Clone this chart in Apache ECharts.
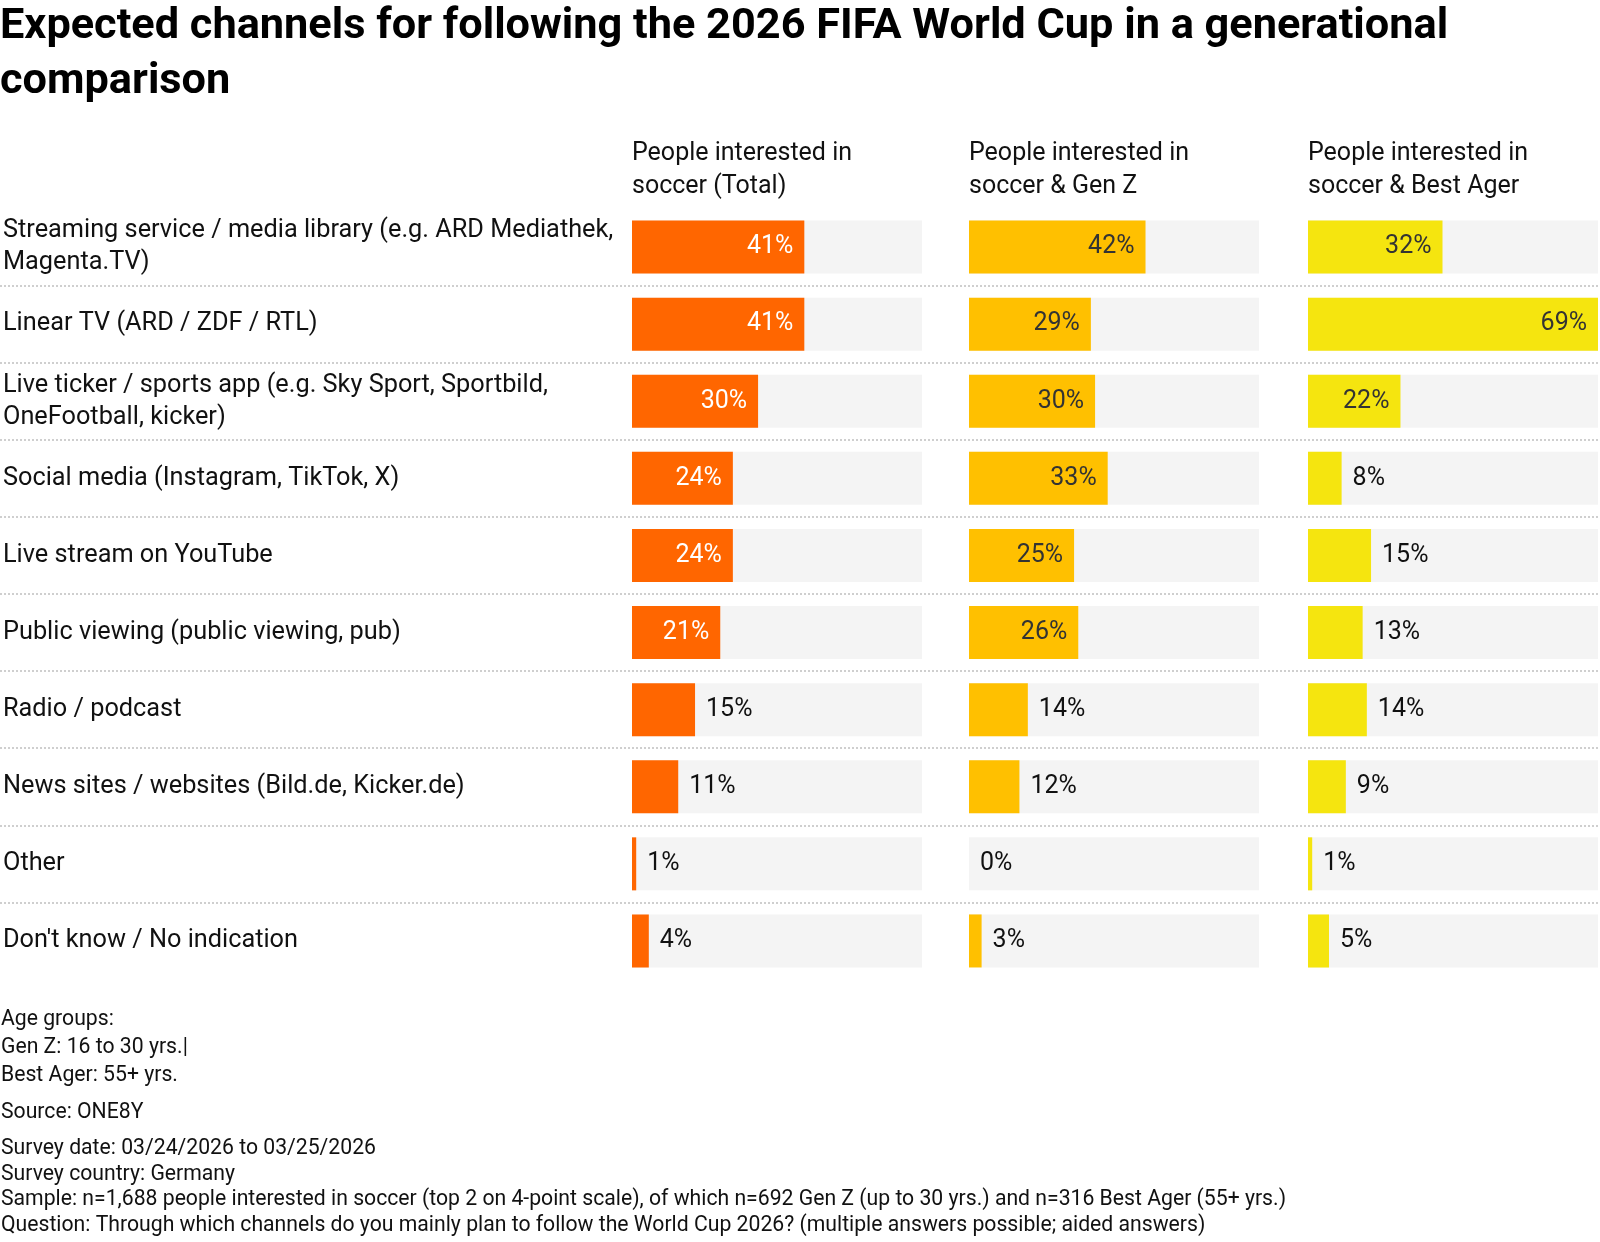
<!DOCTYPE html>
<html>
<head>
<meta charset="utf-8">
<title>FIFA World Cup 2026 channels</title>
<script src="https://cdn.jsdelivr.net/npm/echarts@6/dist/echarts.min.js"></script>
<style>
  html, body { margin: 0; padding: 0; background: #fff; }
  #chart { width: 1600px; height: 1242px; }
</style>
</head>
<body>
<div id="chart"></div>
<script>
// data
var categories = [
  'Streaming service / media library (e.g. ARD Mediathek,\nMagenta.TV)',
  'Linear TV (ARD / ZDF / RTL)',
  'Live ticker / sports app (e.g. Sky Sport, Sportbild,\nOneFootball, kicker)',
  'Social media (Instagram, TikTok, X)',
  'Live stream on YouTube',
  'Public viewing (public viewing, pub)',
  'Radio / podcast',
  'News sites / websites (Bild.de, Kicker.de)',
  'Other',
  "Don't know / No indication"
];
var columnTitles = [
  'People interested in\nsoccer (Total)',
  'People interested in\nsoccer & Gen Z',
  'People interested in\nsoccer & Best Ager'
];
var totalValues = [41, 41, 30, 24, 24, 21, 15, 11, 1, 4];
var genZValues = [42, 29, 30, 33, 25, 26, 14, 12, 0, 3];
var bestAgerValues = [32, 69, 22, 8, 15, 13, 14, 9, 1, 5];

var notes1 = 'Age groups:\nGen Z: 16 to 30 yrs.|\nBest Ager: 55+ yrs.';
var notes2 = 'Source: ONE8Y';
var notes3 = 'Survey date: 03/24/2026 to 03/25/2026\nSurvey country: Germany\n' +
  'Sample: n=1,688 people interested in soccer (top 2 on 4-point scale), of which n=692 Gen Z (up to 30 yrs.) and n=316 Best Ager (55+ yrs.)\n' +
  'Question: Through which channels do you mainly plan to follow the World Cup 2026? (multiple answers possible; aided answers)';

// layout
var FONT = 'Roboto, "Noto Sans", sans-serif';
var TEXT = '#111';
var rowTop = 208.5;
var rowBand = 77.1;
var colLeft = [632, 969, 1308];
var colWidth = 290;
var colors = ['#ff6600', '#ffc000', '#f5e50f'];
var insideColors = ['#fff', '#333', '#333'];
var scaleMax = Math.max.apply(null, totalValues.concat(genZValues, bestAgerValues));
var allValues = [totalValues, genZValues, bestAgerValues];

var myChart = echarts.init(document.getElementById('chart'), null, { renderer: 'canvas' });

var grids = [], xAxes = [], yAxes = [], series = [];
for (var i = 0; i < 3; i++) {
  grids.push({ left: colLeft[i], width: colWidth, top: rowTop, height: rowBand * categories.length });
  xAxes.push({ type: 'value', gridIndex: i, min: 0, max: scaleMax, show: false });
  yAxes.push({
    type: 'category', gridIndex: i, inverse: true, data: categories,
    axisLine: { show: false }, axisTick: { show: false },
    axisLabel: {
      show: i === 0, align: 'left', margin: colLeft[0] - 3,
      fontFamily: FONT, fontSize: 25.3, lineHeight: 32, color: TEXT
    }
  });
  (function (idx) {
    series.push({
      type: 'bar', xAxisIndex: idx, yAxisIndex: idx,
      barWidth: 53,
      showBackground: true,
      backgroundStyle: { color: '#f4f4f4' },
      itemStyle: { color: colors[idx] },
      silent: true,
      data: allValues[idx].map(function (v) {
        var inside = v >= 20;
        return {
          value: v,
          label: {
            show: true,
            position: inside ? 'insideRight' : 'right',
            distance: 11,
            color: inside ? insideColors[idx] : TEXT
          }
        };
      }),
      label: { formatter: '{c}%', fontFamily: FONT, fontSize: 25 }
    });
  })(i);
}

// separator grid: dotted lines between rows across the whole width
grids.push({ left: 0, width: 1598, top: rowTop + rowBand, height: rowBand * (categories.length - 2) });
xAxes.push({ type: 'value', gridIndex: 3, show: false });
yAxes.push({
  type: 'category', gridIndex: 3, data: categories.slice(0, categories.length - 2),
  axisLine: { show: false }, axisTick: { show: false }, axisLabel: { show: false },
  splitLine: { show: true, lineStyle: { color: '#cfcfcf', type: 'dotted', width: 2 } }
});

var titles = [{
  text: 'Expected channels for following the 2026 FIFA World Cup in a generational\ncomparison',
  left: 0, top: 0, padding: 0,
  textStyle: { fontFamily: FONT, fontSize: 43.3, fontWeight: 'bold', lineHeight: 55, color: '#000' }
}];
for (var j = 0; j < 3; j++) {
  titles.push({
    text: columnTitles[j], left: colLeft[j], top: 137, padding: 0,
    textStyle: { fontFamily: FONT, fontSize: 25, fontWeight: 'normal', lineHeight: 33, color: TEXT }
  });
}
titles.push({ text: notes1, left: 1, top: 1006, padding: 0,
  textStyle: { fontFamily: FONT, fontSize: 21.2, fontWeight: 'normal', lineHeight: 28, color: TEXT } });
titles.push({ text: notes2, left: 1, top: 1100, padding: 0,
  textStyle: { fontFamily: FONT, fontSize: 21.2, fontWeight: 'normal', lineHeight: 26, color: TEXT } });
titles.push({ text: notes3, left: 1, top: 1136, padding: 0,
  textStyle: { fontFamily: FONT, fontSize: 21.2, fontWeight: 'normal', lineHeight: 25.5, color: TEXT } });

var option = {
  backgroundColor: '#fff',
  animation: false,
  title: titles,
  grid: grids,
  xAxis: xAxes,
  yAxis: yAxes,
  series: series
};

myChart.setOption(option);
</script>
</body>
</html>
